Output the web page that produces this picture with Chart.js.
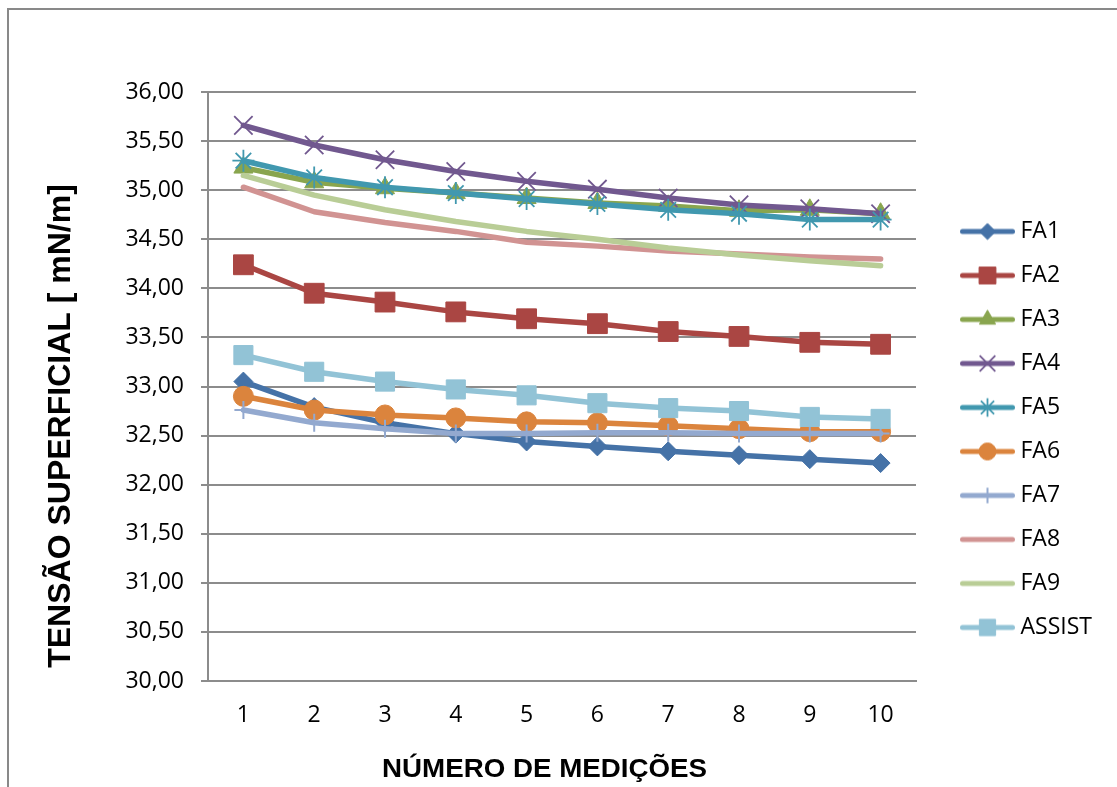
<!DOCTYPE html>
<html>
<head>
<meta charset="utf-8">
<title>Tensão superficial</title>
<script src="https://cdn.jsdelivr.net/npm/chart.js@4.4.1/dist/chart.umd.min.js"></script>
<style>
  html, body { margin: 0; padding: 0; background: #ffffff; overflow: hidden; }
  #frame { position: absolute; left: 7px; top: 8px; width: 1300px; height: 1000px;
           border: 2px solid #898989; box-sizing: border-box; }
  #wrap { position: absolute; left: 0; top: 0; width: 1117px; height: 787px; }
</style>
</head>
<body>
<div id="frame"></div>
<div id="wrap"><canvas id="chart" width="1117" height="787"></canvas></div>
<script>
// Measurement number (x axis categories)
const categories = ['1', '2', '3', '4', '5', '6', '7', '8', '9', '10'];

// Series names
const seriesNames = ['FA1', 'FA2', 'FA3', 'FA4', 'FA5', 'FA6', 'FA7', 'FA8', 'FA9', 'ASSIST'];

// Surface tension readings, mN/m
const fa1    = [33.05, 32.79, 32.63, 32.52, 32.44, 32.39, 32.34, 32.30, 32.26, 32.22];
const fa2    = [34.24, 33.95, 33.86, 33.76, 33.69, 33.64, 33.56, 33.51, 33.45, 33.43];
const fa3    = [35.23, 35.08, 35.02, 34.97, 34.92, 34.87, 34.84, 34.79, 34.80, 34.76];
const fa4    = [35.66, 35.46, 35.31, 35.19, 35.09, 35.01, 34.92, 34.85, 34.81, 34.76];
const fa5    = [35.30, 35.13, 35.03, 34.97, 34.91, 34.86, 34.80, 34.76, 34.70, 34.70];
const fa6    = [32.90, 32.76, 32.71, 32.68, 32.64, 32.63, 32.60, 32.57, 32.54, 32.54];
const fa7    = [32.76, 32.63, 32.57, 32.52, 32.52, 32.53, 32.53, 32.52, 32.52, 32.52];
const fa8    = [35.03, 34.78, 34.67, 34.58, 34.47, 34.43, 34.38, 34.35, 34.32, 34.30];
const fa9    = [35.15, 34.95, 34.80, 34.68, 34.58, 34.50, 34.41, 34.34, 34.28, 34.23];
const assist = [33.32, 33.15, 33.05, 32.97, 32.91, 32.83, 32.78, 32.75, 32.69, 32.67];

const seriesValues = [fa1, fa2, fa3, fa4, fa5, fa6, fa7, fa8, fa9, assist];

// Y axis tick values (labels use a decimal comma)
const yTickValues = [30, 30.5, 31, 31.5, 32, 32.5, 33, 33.5, 34, 34.5, 35, 35.5, 36];

const xTitle = 'NÚMERO DE MEDIÇÕES';
const yTitle = 'TENSÃO SUPERFICIAL [ mN/m]';

// Line and marker styling per series
const seriesStyles = [
  { color: '#4572A7', pointStyle: 'rectRot',  radius: 9.5, markerWidth: 1 },
  { color: '#AA4643', pointStyle: 'rect',     radius: 14,  markerWidth: 1 },
  { color: '#89A54E', pointStyle: 'triangle', radius: 11,  markerWidth: 1 },
  { color: '#71588F', pointStyle: 'crossRot', radius: 13,  markerWidth: 1.8 },
  { color: '#4198AF', pointStyle: 'star',     radius: 11,  markerWidth: 1.8 },
  { color: '#DB843D', pointStyle: 'circle',   radius: 10,  markerWidth: 1 },
  { color: '#93A9CF', pointStyle: 'cross',    radius: 9,   markerWidth: 2 },
  { color: '#D19392', pointStyle: 'circle',   radius: 0,   markerWidth: 0 },
  { color: '#B9CD96', pointStyle: 'circle',   radius: 0,   markerWidth: 0 },
  { color: '#92C3D6', pointStyle: 'rect',     radius: 13.5, markerWidth: 1 }
];

const GRID = '#8c8c8c';
const TICK_FONT = { family: '"Open Sans", "Noto Sans", sans-serif', size: 23 };
const fmt = v => Number(v).toFixed(2).replace('.', ',');

// Legend swatch: a short thick line with the series marker in its middle
function legendSwatch(st) {
  const cv = document.createElement('canvas');
  cv.width = 84; cv.height = 30;
  const c = cv.getContext('2d');
  c.strokeStyle = st.color;
  c.lineWidth = 5;
  c.lineCap = 'round';
  c.beginPath();
  c.moveTo(31.5, 15);
  c.lineTo(81.5, 15);
  c.stroke();
  if (st.radius > 0 && Chart.helpers && Chart.helpers.drawPoint) {
    c.fillStyle = st.color;
    c.strokeStyle = st.color;
    c.lineWidth = st.markerWidth;
    c.lineCap = 'butt';
    Chart.helpers.drawPoint(c, {
      pointStyle: st.pointStyle,
      radius: st.radius * 0.85,
      borderWidth: st.markerWidth,
      rotation: 0
    }, 56.5, 15);
  }
  return cv;
}

// Axis titles drawn on the canvas, plus a fixed legend column width
const layoutAndTitles = {
  id: 'layoutAndTitles',
  beforeUpdate(chart) {
    const lg = chart.legend;
    if (lg && !lg._fixedWidth) {
      const fit = lg.fit.bind(lg);
      lg.fit = function () { fit(); this.width = 201; };
      lg._fixedWidth = true;
    }
  },
  afterDraw(chart) {
    const ctx = chart.ctx;
    ctx.save();
    ctx.fillStyle = '#000';
    // vertical title
    ctx.font = 'bold 32px "Liberation Sans", Arial, sans-serif';
    ctx.textAlign = 'center';
    ctx.textBaseline = 'alphabetic';
    ctx.translate(70, 426);
    ctx.rotate(-Math.PI / 2);
    ctx.fillText(yTitle, 0, 0);
    ctx.restore();

    // horizontal title
    ctx.save();
    ctx.fillStyle = '#000';
    ctx.font = 'bold 26px "Liberation Sans", Arial, sans-serif';
    ctx.textAlign = 'center';
    ctx.textBaseline = 'alphabetic';
    const w = ctx.measureText(xTitle).width;
    ctx.translate(544.5, 777);
    ctx.scale(325 / w, 1);
    ctx.fillText(xTitle, 0, 0);
    ctx.restore();
  }
};

function build() {
  const swatches = seriesStyles.map(legendSwatch);

  const datasets = seriesNames.map((name, i) => {
    const st = seriesStyles[i];
    return {
      label: name,
      data: seriesValues[i],
      borderColor: st.color,
      backgroundColor: st.color,
      borderWidth: 5.5,
      borderCapStyle: 'round',
      borderJoinStyle: 'round',
      tension: 0,
      pointStyle: st.pointStyle,
      pointRadius: st.radius,
      pointHoverRadius: st.radius,
      pointBorderWidth: st.markerWidth,
      pointBackgroundColor: st.color,
      pointBorderColor: st.color,
      order: -i,
      clip: false
    };
  });

  new Chart(document.getElementById('chart'), {
    type: 'line',
    data: { labels: categories, datasets },
    plugins: [layoutAndTitles],
    options: {
      responsive: false,
      animation: false,
      events: [],
      layout: { padding: { left: 0, right: 0, top: 92, bottom: 20 } },
      plugins: {
        tooltip: { enabled: false },
        title: { display: false },
        legend: {
          position: 'right',
          align: 'center',
          labels: {
            usePointStyle: true,
            pointStyleWidth: 72,
            padding: 21,
            color: '#000',
            font: TICK_FONT,
            generateLabels(chart) {
              return chart.data.datasets.map((ds, i) => ({
                text: ds.label,
                pointStyle: swatches[i],
                fillStyle: ds.borderColor,
                strokeStyle: ds.borderColor,
                lineWidth: 0,
                fontColor: '#000',
                hidden: !chart.isDatasetVisible(i),
                datasetIndex: i
              }));
            }
          }
        }
      },
      scales: {
        x: {
          type: 'category',
          offset: true,
          grid: { display: false, drawTicks: false },
          border: { display: true, color: GRID, width: 2 },
          ticks: { color: '#000', font: TICK_FONT, padding: 21, maxRotation: 0, autoSkip: false },
          afterFit(scale) { scale.height = 86; }
        },
        y: {
          min: yTickValues[0],
          max: yTickValues[yTickValues.length - 1],
          grid: { color: GRID, lineWidth: 2, drawTicks: true, tickLength: 7 },
          border: { display: true, color: GRID, width: 2 },
          afterBuildTicks(scale) { scale.ticks = yTickValues.map(v => ({ value: v })); },
          ticks: { color: '#000', font: TICK_FONT, padding: 17, callback: v => fmt(v) },
          afterFit(scale) { scale.width = 208; }
        }
      }
    }
  });
}

const fontLoads = document.fonts && document.fonts.load
  ? Promise.all([
      document.fonts.load('23px "Open Sans"'),
      document.fonts.load('bold 32px "Liberation Sans"')
    ]).catch(() => null)
  : Promise.resolve();
fontLoads.then(build, build);
</script>
</body>
</html>
